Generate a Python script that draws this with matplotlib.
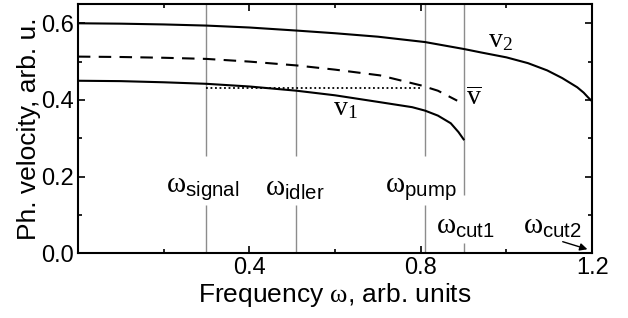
import matplotlib
matplotlib.use("Agg")
import matplotlib.pyplot as plt

plt.rcParams['font.family'] = ['Liberation Sans', 'DejaVu Sans']
plt.rcParams['mathtext.fontset'] = 'custom'
plt.rcParams['mathtext.rm'] = 'Liberation Serif'
plt.rcParams['mathtext.it'] = 'Liberation Serif:italic'
plt.rcParams['mathtext.sf'] = 'Liberation Sans'

# branch v2 (upper, cut-off at 1.2)
w_v2 = [0.0, 0.1, 0.2, 0.3, 0.4, 0.51, 0.6, 0.7, 0.81, 0.9, 0.94, 1.0, 1.05, 1.095, 1.13, 1.165, 1.18, 1.19, 1.2]
v2 = [0.600, 0.599, 0.597, 0.594, 0.589, 0.581, 0.574, 0.565, 0.551, 0.533, 0.524, 0.511, 0.496, 0.477, 0.457, 0.433, 0.419, 0.407, 0.396]

# branch v1 (lower, cut-off at 0.9)
w_v1 = [0.0, 0.1, 0.2, 0.3, 0.4, 0.51, 0.6, 0.705, 0.78, 0.81, 0.84, 0.87, 0.888, 0.9]
v1 = [0.450, 0.449, 0.446, 0.442, 0.435, 0.424, 0.412, 0.394, 0.381, 0.372, 0.359, 0.339, 0.316, 0.297]

# mean velocity (dashed)
w_vm = [0.0, 0.1, 0.2, 0.3, 0.4, 0.51, 0.6, 0.705, 0.8, 0.84, 0.885]
vm = [0.513, 0.512, 0.510, 0.507, 0.500, 0.490, 0.479, 0.464, 0.438, 0.424, 0.398]

# phase-matching level (dotted)
w_pm = [0.3, 0.8]
v_pm = [0.432, 0.432]

# marker frequencies: (value, label, label x, label y, gap bottom, gap top)
marks = [
    (0.30, r'$\mathrm{\omega}_{\mathsf{signal}}$', 0.292, 0.17, 0.125, 0.253),
    (0.51, r'$\mathrm{\omega}_{\mathsf{idler}}$', 0.505, 0.17, 0.125, 0.253),
    (0.81, r'$\mathrm{\omega}_{\mathsf{pump}}$', 0.80, 0.17, 0.125, 0.253),
    (0.90, r'$\mathrm{\omega}_{\mathsf{cut1}}$', 0.905, 0.07, 0.026, 0.151),
]

fig = plt.figure(figsize=(6.28, 3.18), dpi=100)
ax = fig.add_axes([0.124, 0.204, 0.819, 0.783])

ymax = 0.65
for w, lab, lx, ly, g0, g1 in marks:
    ax.vlines(w, 0, g0, color='#8c8c8c', lw=1.0)
    ax.vlines(w, g1, ymax, color='#8c8c8c', lw=1.0)
    ax.text(lx, ly, lab, fontsize=21, ha='center', va='center')

ax.text(1.107, 0.07, r'$\mathrm{\omega}_{\mathsf{cut2}}$', fontsize=21, ha='center', va='center')
ax.annotate('', xy=(1.195, 0.008), xytext=(1.125, 0.032),
            arrowprops=dict(arrowstyle='-|>', color='black', lw=1.0, mutation_scale=11))

ax.plot(w_v2, v2, color='black', lw=1.5)
ax.plot(w_v1, v1, color='black', lw=1.5)
ax.plot(w_vm, vm, color='black', lw=1.5, ls=(0, (6, 4)))
ax.plot(w_pm, v_pm, color='black', lw=1.3, ls=(0, (1, 1.5)))

ax.text(0.985, 0.557, r'$\mathrm{v}_2$', fontsize=20, ha='center', va='center')
ax.text(0.625, 0.378, r'$\mathrm{v}_1$', fontsize=20, ha='center', va='center')
ax.text(0.925, 0.405, r'$\overline{\mathrm{v}}$', fontsize=20, ha='center', va='center')

ax.set_xlim(0, 1.2)
ax.set_ylim(0, ymax)
ax.set_xticks([0.4, 0.8, 1.2])
ax.set_xticks([0.2, 0.6, 1.0], minor=True)
ax.set_yticks([0.0, 0.2, 0.4, 0.6])
ax.set_yticks([0.1, 0.3, 0.5], minor=True)
ax.set_xticklabels(['0.4', '0.8', '1.2'])
ax.set_yticklabels(['0.0', '0.2', '0.4', '0.6'])
ax.tick_params(which='both', direction='in', top=True, right=True, labelsize=17, width=1.2, pad=3)
ax.tick_params(which='major', length=5)
ax.tick_params(which='minor', length=3)
for s in ax.spines.values():
    s.set_linewidth(1.5)

ax.set_xlabel(r'Frequency $\mathrm{\omega}$, arb. units', fontsize=19, labelpad=1)
ax.set_ylabel('Ph. velocity, arb. u.', fontsize=19, labelpad=0)

fig.savefig('out.png', dpi=100)
